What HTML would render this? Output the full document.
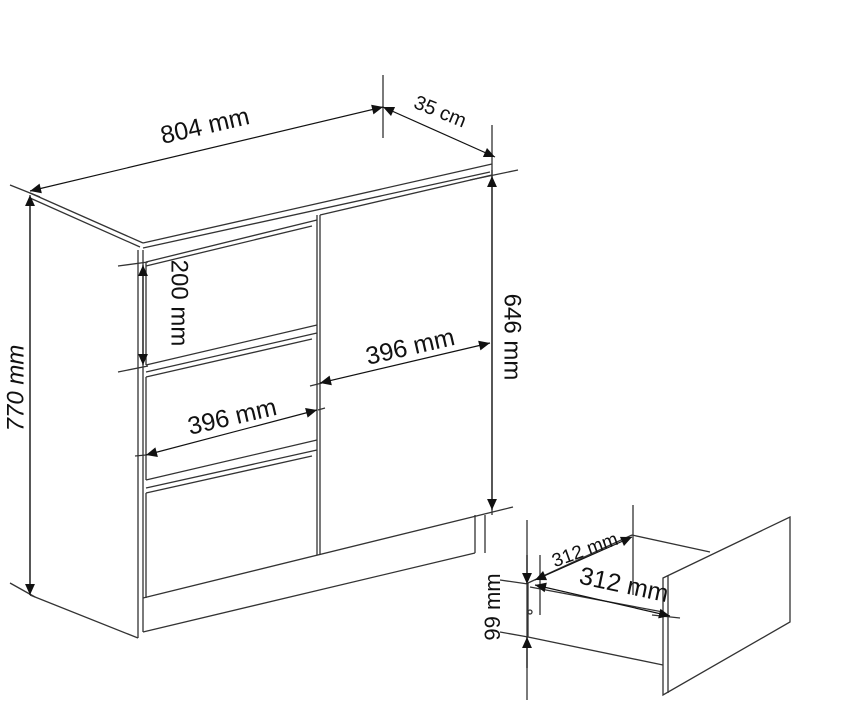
<!DOCTYPE html>
<html><head><meta charset="utf-8"><style>
html,body{margin:0;padding:0;background:#fff;width:848px;height:725px;overflow:hidden}
svg{display:block}
text{font-family:"Liberation Sans",Arial,sans-serif;fill:#111}
</style></head><body>
<svg width="848" height="725" viewBox="0 0 848 725" xmlns="http://www.w3.org/2000/svg">
<defs>
<marker id="a" viewBox="0 0 10 10" refX="10" refY="5" markerWidth="20" markerHeight="11" markerUnits="userSpaceOnUse" orient="auto-start-reverse">
<path d="M0,0.5 L10,5 L0,9.5 z" fill="#111"/></marker>
</defs>
<g stroke="#333" stroke-width="1.3" fill="none">
<!-- top -->
<line x1="30" y1="193" x2="143" y2="243"/>
<line x1="30" y1="198" x2="140" y2="247"/>
<line x1="143" y1="243" x2="492" y2="164"/>
<line x1="143" y1="248" x2="490" y2="172"/>
<!-- left side -->
<line x1="30" y1="198" x2="30" y2="595"/>
<line x1="30" y1="595" x2="138" y2="638"/>
<line x1="138" y1="250" x2="138" y2="638"/>
<line x1="143" y1="250" x2="143" y2="632"/>
<!-- plinth -->
<line x1="143" y1="632" x2="475" y2="553"/>
<line x1="143" y1="598" x2="513" y2="507"/>
<line x1="475" y1="515" x2="475" y2="553"/>
<line x1="485" y1="515" x2="485" y2="553"/>
<!-- drawers -->
<path d="M146,262 L317,220 M146,266 L312,226 M146,365 L317,325 M146,372 L317,333 M146,377 L312,339 M146,480 L317,440 M146,488 L317,450 M146,493 L312,456"/>
<line x1="317" y1="215" x2="317" y2="555"/>
<line x1="146" y1="262" x2="146" y2="365"/>
<line x1="146" y1="377" x2="146" y2="480"/>
<line x1="146" y1="493" x2="146" y2="598"/>
<!-- door -->
<line x1="320" y1="215" x2="320" y2="555"/>
<line x1="320" y1="215" x2="492" y2="175"/>
<line x1="492" y1="170" x2="492" y2="515"/>
<!-- extensions -->
<line x1="10" y1="185" x2="40" y2="197"/>
<line x1="383" y1="75" x2="383" y2="138"/>
<line x1="492" y1="125" x2="492" y2="175"/>
<line x1="470" y1="180" x2="518" y2="170"/>
<line x1="118" y1="266" x2="148" y2="262"/>
<line x1="118" y1="372" x2="148" y2="366"/>
<line x1="10" y1="583" x2="35" y2="597"/>
<line x1="310" y1="386" x2="322" y2="383"/>
<line x1="135" y1="456" x2="146" y2="455"/>
<line x1="318" y1="410" x2="325" y2="408"/>
<!-- drawer detail -->
<path d="M663,578 L790,517 L790,622 L663,695 Z" fill="#fff"/>
<line x1="668" y1="576" x2="668" y2="693"/>
<line x1="528" y1="583" x2="528" y2="637"/>
<line x1="528" y1="637" x2="663" y2="665"/>
<line x1="528" y1="583" x2="632" y2="535"/>
<line x1="632" y1="535" x2="710" y2="552"/>
<line x1="530" y1="587" x2="663" y2="612"/>
<line x1="633" y1="505" x2="633" y2="595"/>
<line x1="540" y1="555" x2="540" y2="615"/>
<line x1="500" y1="580" x2="528" y2="584"/>
<line x1="500" y1="632" x2="528" y2="637"/>
<line x1="527" y1="520" x2="527" y2="700"/>
<line x1="652" y1="615" x2="680" y2="618"/>
<circle cx="530" cy="612" r="2"/>
</g>
<g stroke="#111" stroke-width="1.2" fill="none">
<line x1="30" y1="191" x2="383" y2="107" marker-start="url(#a)" marker-end="url(#a)"/>
<line x1="383" y1="107" x2="495" y2="157" marker-start="url(#a)" marker-end="url(#a)"/>
<line x1="30" y1="195" x2="30" y2="595" marker-start="url(#a)" marker-end="url(#a)"/>
<line x1="492" y1="176" x2="492" y2="510" marker-start="url(#a)" marker-end="url(#a)"/>
<line x1="143" y1="265" x2="143" y2="365" marker-start="url(#a)" marker-end="url(#a)"/>
<line x1="320" y1="383" x2="490" y2="343" marker-start="url(#a)" marker-end="url(#a)"/>
<line x1="146" y1="455" x2="317" y2="410" marker-start="url(#a)" marker-end="url(#a)"/>
<line x1="535" y1="580" x2="632" y2="537" marker-start="url(#a)" marker-end="url(#a)"/>
<line x1="535" y1="585" x2="670" y2="616" marker-start="url(#a)" marker-end="url(#a)"/>
<line x1="527" y1="555" x2="527" y2="584" marker-end="url(#a)"/>
<line x1="527" y1="668" x2="527" y2="637" marker-end="url(#a)"/>
</g>
<text x="205" y="134" font-size="25" transform="rotate(-13 205 126)" text-anchor="middle">804 mm</text>
<text x="440" y="118" font-size="20" transform="rotate(22 440 112)" text-anchor="middle">35 cm</text>
<text x="17" y="388" font-size="24" font-style="italic" transform="rotate(-90 17 388)" text-anchor="middle" dominant-baseline="middle">770 mm</text>
<text x="511" y="337" font-size="24" transform="rotate(90 511 337)" text-anchor="middle" dominant-baseline="middle">646 mm</text>
<text x="178" y="303" font-size="24" transform="rotate(90 178 303)" text-anchor="middle" dominant-baseline="middle">200 mm</text>
<text x="410" y="355" font-size="25" transform="rotate(-13 410 346)" text-anchor="middle">396 mm</text>
<text x="232" y="425" font-size="25" transform="rotate(-13 232 416)" text-anchor="middle">396 mm</text>
<text x="585" y="556" font-size="19" transform="rotate(-20 585 550)" text-anchor="middle">312 mm</text>
<text x="624" y="593" font-size="25" transform="rotate(12 624 585)" text-anchor="middle">312 mm</text>
<text x="494" y="607" font-size="22" transform="rotate(-90 494 607)" text-anchor="middle" dominant-baseline="middle">99 mm</text>
</svg>
</body></html>
